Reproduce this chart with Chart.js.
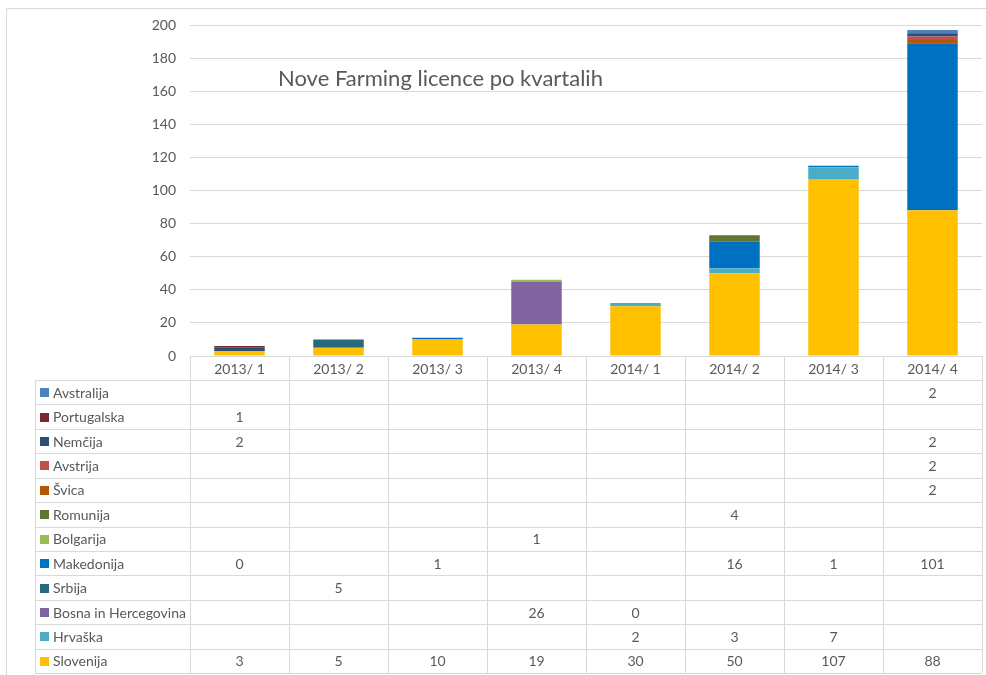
<!DOCTYPE html>
<html>
<head>
<meta charset="utf-8">
<script src="https://cdn.jsdelivr.net/npm/chart.js@4.4.1/dist/chart.umd.min.js"></script>
<style>
  html, body { margin: 0; padding: 0; background: #fff; }
  #wrap { width: 986px; height: 675px; position: relative; }
</style>
</head>
<body>
<div id="wrap"><canvas id="licenceChart"></canvas></div>
<script>
// categories
var quarters = ['2013/ 1', '2013/ 2', '2013/ 3', '2013/ 4', '2014/ 1', '2014/ 2', '2014/ 3', '2014/ 4'];

// series values (null = empty cell in the table)
var slovenija   = [3, 5, 10, 19, 30, 50, 107, 88];
var hrvaska     = [null, null, null, null, 2, 3, 7, null];
var bosna       = [null, null, null, 26, 0, null, null, null];
var srbija      = [null, 5, null, null, null, null, null, null];
var makedonija  = [0, null, 1, null, null, 16, 1, 101];
var bolgarija   = [null, null, null, 1, null, null, null, null];
var romunija    = [null, null, null, null, null, 4, null, null];
var svica       = [null, null, null, null, null, null, null, 2];
var avstrija    = [null, null, null, null, null, null, null, 2];
var nemcija     = [2, null, null, null, null, null, null, 2];
var portugalska = [1, null, null, null, null, null, null, null];
var avstralija  = [null, null, null, null, null, null, null, 2];

// y axis ticks
var yTicks = [0, 20, 40, 60, 80, 100, 120, 140, 160, 180, 200];

var textColor = '#595959';
var lineColor = '#d9d9d9';
var fontFamily = 'Lato, "Open Sans", sans-serif';

// stacking order, bottom first
var series = [
  { label: 'Slovenija', data: slovenija, color: '#ffc000' },
  { label: 'Hrvaška', data: hrvaska, color: '#4bacc6' },
  { label: 'Bosna in Hercegovina', data: bosna, color: '#8064a2' },
  { label: 'Srbija', data: srbija, color: '#276a7c' },
  { label: 'Makedonija', data: makedonija, color: '#0070c0' },
  { label: 'Bolgarija', data: bolgarija, color: '#9bbb59' },
  { label: 'Romunija', data: romunija, color: '#5f7530' },
  { label: 'Švica', data: svica, color: '#b65708' },
  { label: 'Avstrija', data: avstrija, color: '#c0504d' },
  { label: 'Nemčija', data: nemcija, color: '#2c4d75' },
  { label: 'Portugalska', data: portugalska, color: '#772c2a' },
  { label: 'Avstralija', data: avstralija, color: '#4f81bd' }
];

var datasets = series.map(function (s) {
  return {
    label: s.label,
    data: s.data,
    backgroundColor: s.color,
    borderWidth: 0,
    categoryPercentage: 1,
    barPercentage: 0.51
  };
});

// outer frame of the chart object
var framePlugin = {
  id: 'frame',
  beforeDraw: function (chart) {
    var ctx = chart.ctx;
    ctx.save();
    ctx.strokeStyle = lineColor;
    ctx.lineWidth = 1;
    ctx.beginPath();
    ctx.moveTo(6.5, chart.height);
    ctx.lineTo(6.5, 8.5);
    ctx.lineTo(chart.width, 8.5);
    ctx.stroke();
    ctx.restore();
  }
};

// title placed inside the plot area
var titlePlugin = {
  id: 'innerTitle',
  afterDraw: function (chart) {
    var ctx = chart.ctx, area = chart.chartArea;
    ctx.save();
    ctx.fillStyle = textColor;
    ctx.font = '22px ' + fontFamily;
    ctx.textAlign = 'left';
    ctx.textBaseline = 'middle';
    ctx.fillText('Nove Farming licence po kvartalih', area.left + 88, 79);
    ctx.restore();
  }
};

// data table under the bars, columns follow the x scale
var tablePlugin = {
  id: 'dataTable',
  afterDraw: function (chart) {
    var ctx = chart.ctx, area = chart.chartArea, x = chart.scales.x;
    var colW = (area.right - area.left) / quarters.length;
    var top = area.bottom;
    var headH = 24;
    var rowH = 24.42;
    var labelLeft = 35;
    var rows = series.slice().reverse();
    var bottom = top + headH + rowH * rows.length;

    ctx.save();
    ctx.strokeStyle = lineColor;
    ctx.lineWidth = 1;
    ctx.beginPath();
    ctx.moveTo(area.left, Math.round(top) + 0.5);
    ctx.lineTo(area.right, Math.round(top) + 0.5);
    for (var r = 0; r <= rows.length; r++) {
      var y = Math.round(top + headH + r * rowH) + 0.5;
      ctx.moveTo(labelLeft, y);
      ctx.lineTo(area.right, y);
    }
    ctx.moveTo(labelLeft + 0.5, top + headH);
    ctx.lineTo(labelLeft + 0.5, bottom);
    for (var c = 0; c <= quarters.length; c++) {
      var edge = c < quarters.length ? x.getPixelForValue(c) - colW / 2 : x.getPixelForValue(c - 1) + colW / 2;
      var xx = Math.round(edge) + 0.5;
      ctx.moveTo(xx, top);
      ctx.lineTo(xx, bottom);
    }
    ctx.stroke();

    ctx.font = '14px ' + fontFamily;
    ctx.fillStyle = textColor;
    ctx.textBaseline = 'middle';
    ctx.textAlign = 'center';
    quarters.forEach(function (q, i) {
      ctx.fillText(q, x.getPixelForValue(i), top + headH / 2 + 1);
    });

    rows.forEach(function (s, r) {
      var cy = top + headH + r * rowH + rowH / 2 + 1;
      ctx.fillStyle = s.color;
      ctx.fillRect(labelLeft + 5, Math.round(cy - 5), 9, 9);
      ctx.fillStyle = textColor;
      ctx.textAlign = 'left';
      ctx.fillText(s.label, labelLeft + 18, cy);
      ctx.textAlign = 'center';
      s.data.forEach(function (v, i) {
        if (v !== null) ctx.fillText(String(v), x.getPixelForValue(i), cy);
      });
    });
    ctx.restore();
  }
};

var ctx = document.getElementById('licenceChart').getContext('2d');
var licenceChart = new Chart(ctx, {
  type: 'bar',
  data: { labels: quarters, datasets: datasets },
  options: {
    responsive: true,
    maintainAspectRatio: false,
    animation: false,
    layout: { padding: { left: 0, top: 25, right: 4, bottom: 319 } },
    scales: {
      x: {
        stacked: true,
        display: false
      },
      y: {
        stacked: true,
        min: 0,
        max: 200,
        afterFit: function (scale) { scale.width = 190; },
        afterBuildTicks: function (scale) {
          scale.ticks = yTicks.map(function (v) { return { value: v }; });
        },
        grid: { color: lineColor, drawTicks: false },
        border: { display: false },
        ticks: {
          padding: 14,
          color: textColor,
          font: { family: fontFamily, size: 14 }
        }
      }
    },
    plugins: {
      legend: { display: false },
      tooltip: { enabled: false }
    }
  },
  plugins: [framePlugin, titlePlugin, tablePlugin]
});
</script>
</body>
</html>
